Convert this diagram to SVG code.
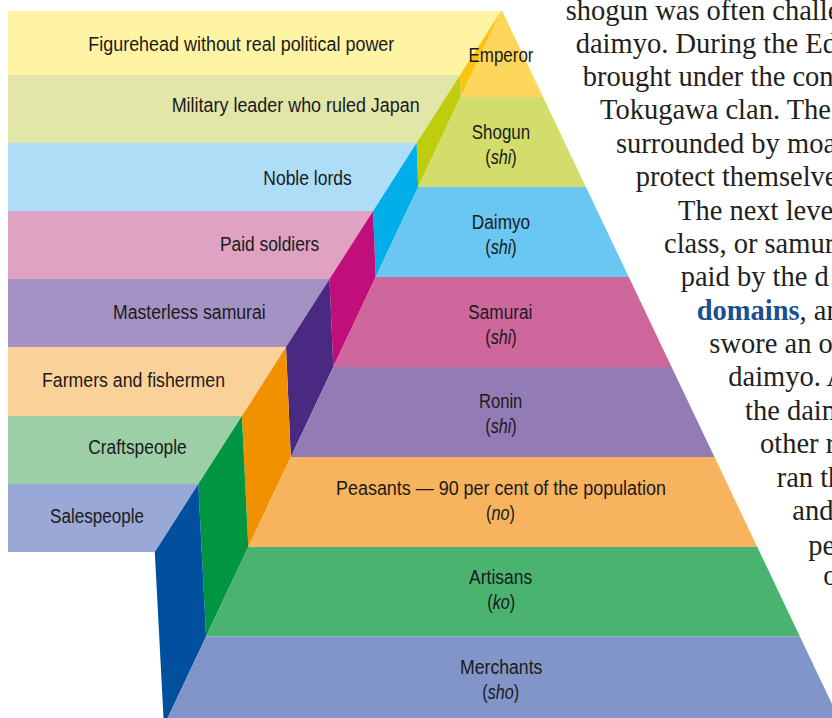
<svg xmlns="http://www.w3.org/2000/svg" width="832" height="718" viewBox="0 0 832 718">
<style>
.lbl{font-family:"Liberation Sans",Arial,sans-serif;font-size:20px;fill:#1a1a1a}
.ctr{text-anchor:middle}
.it{font-style:italic}
.body{font-family:"Liberation Serif","Times New Roman",serif;font-size:28.5px;fill:#231f20}
.kw{font-weight:bold;fill:#1c4f8f}
</style>
<rect x="0" y="0" width="832" height="718" fill="#ffffff"/>

<g id="level-emperor">
<polygon points="8,11 501.1,11 460.1,75 8,75" fill="#FFF4A3"/>
<polygon points="501.7,10 460.7,97 460.1,75" fill="#FDC30F"/>
<polygon points="501.7,10 543.1,97 460.7,97" fill="#FFD65C"/>
<text class="lbl" x="88.3" y="50.5" textLength="306" lengthAdjust="spacingAndGlyphs">Figurehead without real political power</text>
<text class="lbl ctr" x="501" y="61.7" textLength="65" lengthAdjust="spacingAndGlyphs">Emperor</text>
</g>

<g id="level-shogun">
<polygon points="8,75 460.1,75 416.6,143 8,143" fill="#E2E6A9"/>
<polygon points="460.1,75 460.7,97 418.2,187 416.6,143" fill="#BECE0E"/>
<polygon points="460.7,97 543.1,97 585.9,187 418.2,187" fill="#D3DD6B"/>
<text class="lbl" x="171.7" y="112" textLength="248" lengthAdjust="spacingAndGlyphs">Military leader who ruled Japan</text>
<text class="lbl ctr" x="501" y="139.3" textLength="58.3" lengthAdjust="spacingAndGlyphs">Shogun</text>
<text class="lbl ctr" transform="translate(501,164) scale(0.81,1)">(<tspan class="it">shi</tspan>)</text>
</g>

<g id="level-daimyo">
<polygon points="8,143 416.6,143 373.1,211 8,211" fill="#ADDDF7"/>
<polygon points="416.6,143 418.2,187 375.7,277 373.1,211" fill="#00AEEA"/>
<polygon points="418.2,187 585.9,187 628.8,277 375.7,277" fill="#6AC7F1"/>
<text class="lbl" x="263.3" y="185" textLength="88.4" lengthAdjust="spacingAndGlyphs">Noble lords</text>
<text class="lbl ctr" x="501" y="228.5" textLength="58.3" lengthAdjust="spacingAndGlyphs">Daimyo</text>
<text class="lbl ctr" transform="translate(501,253.5) scale(0.81,1)">(<tspan class="it">shi</tspan>)</text>
</g>

<g id="level-samurai">
<polygon points="8,211 373.1,211 329.5,279 8,279" fill="#DFA2C3"/>
<polygon points="373.1,211 375.7,277 333.3,367 329.5,279" fill="#C20E7A"/>
<polygon points="375.7,277 628.8,277 671.6,367 333.3,367" fill="#CE679C"/>
<text class="lbl" x="220" y="251" textLength="99.3" lengthAdjust="spacingAndGlyphs">Paid soldiers</text>
<text class="lbl ctr" x="500.3" y="319.3" textLength="64" lengthAdjust="spacingAndGlyphs">Samurai</text>
<text class="lbl ctr" transform="translate(501,344.3) scale(0.81,1)">(<tspan class="it">shi</tspan>)</text>
</g>

<g id="level-ronin">
<polygon points="8,279 329.5,279 286,347 8,347" fill="#A592C5"/>
<polygon points="329.5,279 333.3,367 290.8,457 286,347" fill="#4A2983"/>
<polygon points="333.3,367 671.6,367 714.5,457 290.8,457" fill="#937CB6"/>
<text class="lbl" x="113" y="319.3" textLength="152.7" lengthAdjust="spacingAndGlyphs">Masterless samurai</text>
<text class="lbl ctr" x="500.7" y="408.3" textLength="43.3" lengthAdjust="spacingAndGlyphs">Ronin</text>
<text class="lbl ctr" transform="translate(501,433.3) scale(0.81,1)">(<tspan class="it">shi</tspan>)</text>
</g>

<g id="level-peasants">
<polygon points="8,347 286,347 241.9,416 8,416" fill="#FBD19A"/>
<polygon points="286,347 290.8,457 248.3,547 241.9,416" fill="#F29100"/>
<polygon points="290.8,457 714.5,457 757.3,547 248.3,547" fill="#F7B35D"/>
<text class="lbl" x="42" y="386.7" textLength="183" lengthAdjust="spacingAndGlyphs">Farmers and fishermen</text>
<text class="lbl ctr" x="501" y="495" textLength="330" lengthAdjust="spacingAndGlyphs">Peasants — 90 per cent of the population</text>
<text class="lbl ctr" transform="translate(500.5,520) scale(0.81,1)">(<tspan class="it">no</tspan>)</text>
</g>

<g id="level-artisans">
<polygon points="8,416 241.9,416 198.3,484 8,484" fill="#9CCFA6"/>
<polygon points="241.9,416 248.3,547 206.1,636.5 198.3,484" fill="#009540"/>
<polygon points="248.3,547 757.3,547 799.9,636.5 206.1,636.5" fill="#4AB370"/>
<text class="lbl" x="88.3" y="454.3" textLength="98.4" lengthAdjust="spacingAndGlyphs">Craftspeople</text>
<text class="lbl ctr" x="500.7" y="584.3" textLength="63.3" lengthAdjust="spacingAndGlyphs">Artisans</text>
<text class="lbl ctr" transform="translate(501.2,609) scale(0.81,1)">(<tspan class="it">ko</tspan>)</text>
</g>

<g id="level-merchants">
<polygon points="8,484 198.3,484 154.8,552 8,552" fill="#99A8D6"/>
<polygon points="198.3,484 206.1,636.5 167.7,718 163.5,718 154.8,552" fill="#00509F"/>
<polygon points="206.1,636.5 799.9,636.5 838.7,718 167.7,718" fill="#8295C8"/>
<text class="lbl" x="50" y="523.3" textLength="94" lengthAdjust="spacingAndGlyphs">Salespeople</text>
<text class="lbl ctr" x="501.2" y="674.3" textLength="82.3" lengthAdjust="spacingAndGlyphs">Merchants</text>
<text class="lbl ctr" transform="translate(500.8,699) scale(0.81,1)">(<tspan class="it">sho</tspan>)</text>
</g>

<g id="body-text" class="body">
<text x="565.7" y="20">shogun was often challe</text>
<text x="575.7" y="53.3">daimyo. During the Ed</text>
<text x="582.7" y="86">brought under the con</text>
<text x="600" y="119.3">Tokugawa clan. The</text>
<text x="616" y="153.3">surrounded by moa</text>
<text x="635.7" y="186">protect themselve</text>
<text x="678" y="220">The next level</text>
<text x="664" y="253.3">class, or samur</text>
<text x="680.7" y="286">paid by the d</text>
<text class="kw" x="696.7" y="320">domains</text>
<text x="799.5" y="320">, an</text>
<text x="709.3" y="353.3">swore an o</text>
<text x="728.3" y="386">daimyo. A</text>
<text x="745" y="420">the daim</text>
<text x="760" y="453.3">other r</text>
<text x="776.7" y="486.7">ran th</text>
<text x="792.3" y="520">and</text>
<text x="808.3" y="555">pe</text>
<text x="823.3" y="585">o</text>
</g>
</svg>
